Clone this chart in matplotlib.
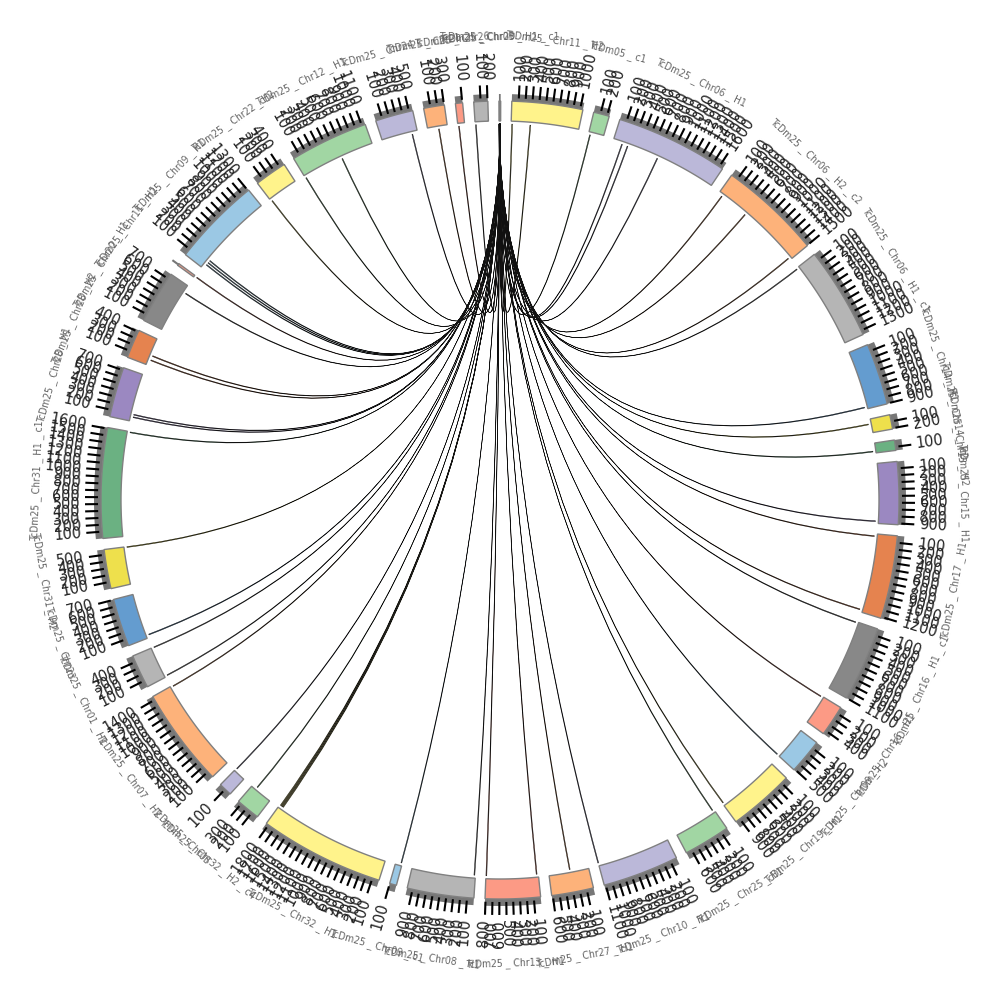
import numpy as np
import matplotlib
matplotlib.use("Agg")
import matplotlib.pyplot as plt
from matplotlib.path import Path
from matplotlib.patches import PathPatch

# sectors, clockwise from the top
names = ["TcDm25 _ Chr03 _ H1 _ c1", "TcDm25 _ Chr11 _ H2", "TcDm05 _ c1", "TcDm25 _ Chr06 _ H1", "TcDm25 _ Chr06 _ H2 _ c2",
         "TcDm25 _ Chr06 _ H1 _ c1", "TcDm25 _ Chr14 _ H1", "TcDm25 _ Chr14 _ H2", "TcDm25 _ Chr15 _ H2", "TcDm25 _ Chr15 _ H1",
         "TcDm25 _ Chr17 _ H1", "TcDm25 _ Chr16 _ H1 _ c1", "TcDm25 _ Chr16 _ H1", "TcDm25 _ Chr09 _ H2", "TcDm25 _ Chr19 _ H1",
         "TcDm25 _ Chr25 _ H1", "TcDm25 _ Chr10 _ H1", "TcDm25 _ Chr27 _ H1", "TcDm25 _ Chr13 _ H1", "TcDm25 _ Chr08 _ H1",
         "TcDm25 _ Chr09 _ c1", "TcDm25 _ Chr32 _ H1", "TcDm25 _ Chr32 _ H2 _ c4", "TcDm25 _ Chr05", "TcDm25 _ Chr07 _ H2",
         "TcDm25 _ Chr01 _ H1", "TcDm25 _ Chr23", "TcDm25 _ Chr31 _ H2", "TcDm25 _ Chr31 _ H1 _ c1", "TcDm25 _ Chr28 _ H1",
         "TcDm25 _ Chr28 _ H2", "TcDm25 _ Chr20 _ H1", "TcDm25 _ Chr11 _ H1", "TcDm25 _ Chr09 _ H1", "TcDm25 _ Chr22 _ H2",
         "TcDm25 _ Chr12 _ H1", "TcDm25 _ Chr24", "TcDm25 _ Chr21", "TcDm25 _ Chr26", "TcDm25 _ Chr29"]

sizes = [25, 1040, 232, 1657, 1505, 1364, 905, 212, 152, 919,
         1222, 1101, 455, 515, 970, 687, 1121, 616, 808, 980,
         101, 1838, 354, 195, 1455, 495, 705, 576, 1616, 737,
         424, 778, 30, 1313, 475, 1152, 556, 305, 105, 205]

colors = ["#808080", "#fff38b", "#a1d6a3", "#bbb8d9", "#fdb27a", "#b5b5b5", "#649ccf", "#eee04c", "#6bb182", "#9b88c1",
          "#e5834f", "#888888", "#fc9a85", "#9bc8e4", "#fff38b", "#a1d6a3", "#bbb8d9", "#fdb27a", "#fc9a85", "#b5b5b5",
          "#9bc8e4", "#fff38b", "#a1d6a3", "#bbb8d9", "#fdb27a", "#b5b5b5", "#649ccf", "#eee04c", "#6bb182", "#9b88c1",
          "#e5834f", "#888888", "#fc9a85", "#9bc8e4", "#fff38b", "#a1d6a3", "#bbb8d9", "#fdb27a", "#fc9a85", "#b5b5b5"]

# links from the thin sector at the top: target sector, position in that sector
link_sector = [1, 1, 2, 3, 3, 3, 4, 4, 4, 5, 6, 7, 8, 9, 10, 10, 11, 12, 13, 14, 15, 16, 17, 18, 18, 19, 20,
               21, 21, 21, 21, 22, 23, 24, 25, 25, 26, 27, 28, 29, 29, 30, 30, 31, 32, 33, 33, 33, 34, 35, 35, 36, 37, 38, 39]
link_pos = [10, 290, 20, 140, 230, 725, 60, 515, 1465, 10, 870, 70, 120, 880, 30, 1180, 5, 5, 505, 950, 20, 1115, 283, 20, 795, 10, 10,
            1770, 1785, 1800, 1815, 270, 180, 1435, 10, 485, 40, 565, 1600, 60, 100, 80, 150, 655, 15, 70, 110, 150, 10, 5, 635, 465, 165, 10, 5]

deg_per_unit = 0.0099
start_angle = -0.15
gap = (360 - sum(sizes) * deg_per_unit) / len(sizes)

r_link = 376
r_in = 379
r_mid = 399
r_band = 406

fig = plt.figure(figsize=(10, 10), dpi=100)
ax = fig.add_axes([0, 0, 1, 1])
ax.set_xlim(0, 1000)
ax.set_ylim(1000, 0)
ax.axis("off")


def polar(theta, r):
    t = np.radians(theta)
    return 500 + r * np.sin(t), 500 - r * np.cos(t)


def ring(a0, a1, r0, r1, **kw):
    th = np.linspace(a0, a1, 40)
    x0, y0 = polar(th, r1)
    x1, y1 = polar(th[::-1], r0)
    ax.fill(np.r_[x0, x1], np.r_[y0, y1], **kw)


# layout
starts = []
a = start_angle
for s in sizes:
    starts.append(a)
    a += s * deg_per_unit + gap

# links go first so the sectors sit on top
n_links = len(link_sector)
for i in range(n_links):
    k = link_sector[i]
    t0 = starts[k] + link_pos[i] * deg_per_unit
    t1 = t0 + 12 * deg_per_unit
    s0 = starts[0] + 0.22 * i / n_links
    s1 = s0 + 0.02
    verts = [polar(s0, r_link), (500, 500), polar(t0, r_link), polar(t1, r_link),
             (500, 500), polar(s1, r_link), polar(s0, r_link)]
    codes = [Path.MOVETO, Path.CURVE3, Path.CURVE3, Path.LINETO,
             Path.CURVE3, Path.CURVE3, Path.CLOSEPOLY]
    ax.add_patch(PathPatch(Path(verts, codes), fc=colors[k], ec="#101010", lw=0.4, zorder=1))

for i, s in enumerate(sizes):
    a0 = starts[i]
    a1 = a0 + s * deg_per_unit
    ring(a0, a1, r_mid, r_band, color="#777777", lw=0, zorder=2)
    ring(a0, a1, r_in, r_mid, fc=colors[i], ec="#808080", lw=1.0, zorder=3)

    # ticks every 100
    for v in range(100, s + 1, 100):
        th = a0 + v * deg_per_unit
        x0, y0 = polar(th, 402)
        x1, y1 = polar(th, 415)
        ax.plot([x0, x1], [y0, y1], color="black", lw=1.5, solid_capstyle="butt", zorder=4)
        xt, yt = polar(th, 420)
        if th % 360 < 180:
            ax.text(xt, yt, str(v), fontsize=11.5, fontstretch="condensed", color="#222222", rotation=90 - th,
                    rotation_mode="anchor", ha="left", va="center", zorder=5)
        else:
            ax.text(xt, yt, str(v), fontsize=11.5, fontstretch="condensed", color="#222222", rotation=270 - th,
                    rotation_mode="anchor", ha="right", va="center", zorder=5)

    # sector name, tangent to the circle
    mid = (a0 + a1) / 2
    xl, yl = polar(mid, 463)
    if np.cos(np.radians(mid)) >= 0:
        rot = -mid
    else:
        rot = 180 - mid
    ax.text(xl, yl, names[i], fontsize=7.5, fontstretch="condensed", color="#666666", rotation=rot,
            rotation_mode="anchor", ha="center", va="center", zorder=5)

fig.savefig("out.png", dpi=100)
